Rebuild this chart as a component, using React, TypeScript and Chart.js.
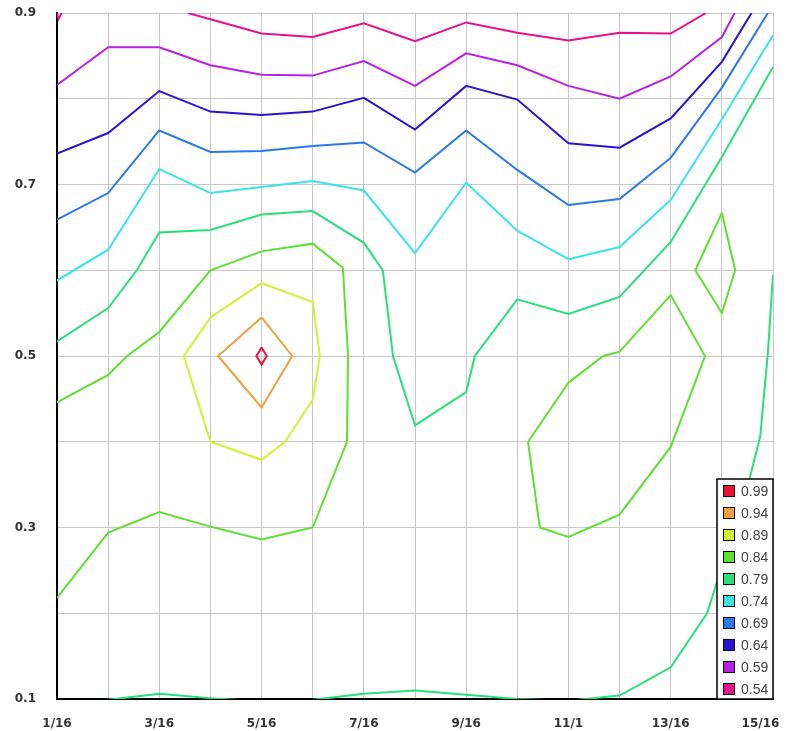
import React, { useEffect, useRef } from 'react';
import { Chart, registerables } from 'chart.js';

Chart.register(...registerables);

// Axis tick labels (x in sixteenths from 1 to 15, y from 0.1 to 0.9)
const xTickLabels = ['1/16', '', '3/16', '', '5/16', '', '7/16', '', '9/16', '', '11/1', '', '13/16', '', '15/16'];
const yTickLabels = ['0.1', '', '0.3', '', '0.5', '', '0.7', '', '0.9'];

// Contour levels (legend order) and their colours
const levels = ['0.99', '0.94', '0.89', '0.84', '0.79', '0.74', '0.69', '0.64', '0.59', '0.54'];
const levelColors = ['#ee1133', '#f0a040', '#d4f030', '#5ee030', '#28e078', '#38e4e4', '#2878e8', '#2a14d0', '#b820e8', '#e8108c'];

// Contour polylines: [x (in sixteenths), y]
const c054a: number[][] = [[1, 0.9], [1.03, 0.893], [1.09, 0.9]];
const c054b: number[][] = [[3.56, 0.9], [5, 0.876], [6, 0.872], [7, 0.888], [8, 0.867], [9, 0.889], [10, 0.877], [11, 0.868], [12, 0.877], [13, 0.876], [13.69, 0.9]];
const c059: number[][] = [[1, 0.816], [2, 0.86], [3, 0.86], [4, 0.839], [5, 0.828], [6, 0.827], [7, 0.844], [8, 0.815], [9, 0.853], [10, 0.839], [11, 0.815], [12, 0.8], [13, 0.826], [14, 0.872], [14.25, 0.9]];
const c064: number[][] = [[1, 0.736], [2, 0.76], [3, 0.809], [4, 0.785], [5, 0.781], [6, 0.785], [7, 0.801], [8, 0.764], [9, 0.815], [10, 0.799], [11, 0.748], [12, 0.743], [13, 0.777], [14, 0.843], [14.58, 0.9]];
const c069: number[][] = [[1, 0.659], [2, 0.69], [3, 0.763], [4, 0.738], [5, 0.739], [6, 0.745], [7, 0.749], [8, 0.714], [9, 0.763], [10, 0.717], [11, 0.676], [12, 0.683], [13, 0.731], [14, 0.813], [14.9, 0.9]];
const c074: number[][] = [[1, 0.588], [2, 0.624], [3, 0.718], [4, 0.69], [5, 0.697], [6, 0.704], [7, 0.693], [8, 0.62], [9, 0.702], [10, 0.646], [11, 0.613], [12, 0.627], [13, 0.682], [14, 0.776], [15, 0.874]];
const c079a: number[][] = [[1, 0.517], [2, 0.556], [2.56, 0.6], [3, 0.644], [4, 0.647], [5, 0.665], [6, 0.669], [7, 0.632], [7.37, 0.6], [7.57, 0.5], [8, 0.419], [9, 0.458], [9.17, 0.5], [10, 0.566], [11, 0.549], [12, 0.569], [13, 0.633], [14, 0.732], [15, 0.837]];
const c079b: number[][] = [[2, 0.099], [3, 0.106], [4, 0.101], [5, 0.097], [6, 0.099], [7, 0.106], [8, 0.11], [9, 0.105], [10, 0.1], [11, 0.098], [12, 0.104], [13, 0.137], [13.71, 0.2], [14, 0.254], [14.55, 0.359], [14.75, 0.406], [14.9, 0.504], [15, 0.595]];
const c084a: number[][] = [[1, 0.446], [2, 0.478], [2.37, 0.5], [3, 0.528], [4, 0.6], [5, 0.622], [6, 0.631], [6.59, 0.603], [6.69, 0.5], [6.67, 0.4], [6, 0.3], [5, 0.286], [4, 0.301], [3, 0.318], [2, 0.294], [1, 0.218]];
const c084b: number[][] = [[10.21, 0.4], [11, 0.469], [11.68, 0.5], [12, 0.505], [13, 0.571], [13.67, 0.5], [13, 0.394], [12, 0.315], [11, 0.289], [10.44, 0.3], [10.21, 0.4]];
const c084c: number[][] = [[14, 0.667], [14.26, 0.6], [14, 0.55], [13.48, 0.6], [14, 0.667]];
const c089: number[][] = [[5, 0.585], [6, 0.563], [6.14, 0.5], [6, 0.449], [5.46, 0.4], [5, 0.379], [4, 0.4], [3.48, 0.5], [4, 0.545], [5, 0.585]];
const c094: number[][] = [[5, 0.545], [5.6, 0.5], [5, 0.44], [4.15, 0.5], [5, 0.545]];
const c099: number[][] = [[5, 0.51], [5.1, 0.5], [5, 0.49], [4.9, 0.5], [5, 0.51]];

const contourLines = [
  { level: '0.54', points: c054a },
  { level: '0.54', points: c054b },
  { level: '0.59', points: c059 },
  { level: '0.64', points: c064 },
  { level: '0.69', points: c069 },
  { level: '0.74', points: c074 },
  { level: '0.79', points: c079a },
  { level: '0.79', points: c079b },
  { level: '0.84', points: c084a },
  { level: '0.84', points: c084b },
  { level: '0.84', points: c084c },
  { level: '0.89', points: c089 },
  { level: '0.94', points: c094 },
  { level: '0.99', points: c099 },
];

const legendPlugin = {
  id: 'contourLegend',
  afterDraw(chart: any) {
    const { ctx, chartArea } = chart;
    const boxW = 56;
    const boxH = 220;
    const x0 = chartArea.right - boxW;
    const y0 = chartArea.bottom - boxH;
    ctx.save();
    ctx.fillStyle = '#ffffff';
    ctx.fillRect(x0, y0, boxW, boxH);
    ctx.strokeStyle = '#000000';
    ctx.lineWidth = 1.5;
    ctx.strokeRect(x0, y0, boxW, boxH);
    ctx.font = '14px "Liberation Sans", Arial, sans-serif';
    ctx.textBaseline = 'middle';
    ctx.textAlign = 'left';
    levels.forEach((lv, i) => {
      const cy = y0 + 12 + i * 22;
      ctx.fillStyle = levelColors[i];
      ctx.fillRect(x0 + 6.5, cy - 5.5, 11, 11);
      ctx.lineWidth = 1;
      ctx.strokeStyle = '#000';
      ctx.strokeRect(x0 + 6.5, cy - 5.5, 11, 11);
      ctx.fillStyle = '#444';
      ctx.fillText(lv, x0 + 24, cy + 1);
    });
    ctx.restore();
  },
};

export default function App() {
  const ref = useRef<HTMLCanvasElement>(null);
  useEffect(() => {
    const datasets = contourLines.map((c) => ({
      label: c.level,
      data: c.points.map(([x, y]) => ({ x, y })),
      borderColor: levelColors[levels.indexOf(c.level)],
      backgroundColor: levelColors[levels.indexOf(c.level)],
      borderWidth: 2,
      pointRadius: 0,
      pointHoverRadius: 0,
      showLine: true,
      fill: false,
      tension: 0,
    }));
    const tickFont = { family: '"DejaVu Sans", Verdana, sans-serif', size: 12, weight: 'bold' as const };
    const chart = new Chart(ref.current as HTMLCanvasElement, {
      type: 'scatter',
      data: { datasets },
      options: {
        animation: false,
        responsive: false,
        devicePixelRatio: 1,
        layout: { padding: { left: 0, right: 14, top: 13, bottom: 0 } },
        plugins: { legend: { display: false }, tooltip: { enabled: false } },
        scales: {
          x: {
            type: 'linear',
            min: 1,
            max: 15,
            ticks: {
              stepSize: 1,
              autoSkip: false,
              maxRotation: 0,
              padding: 18,
              color: '#333',
              font: tickFont,
              callback: (v: any) => {
                const i = Math.round(Number(v)) - 1;
                const s = xTickLabels[i] ?? '';
                return i === xTickLabels.length - 1 ? s + '      ' : s;
              },
            },
            grid: { color: '#c8c8c8', lineWidth: 1, drawTicks: false },
            border: { color: '#000', width: 2 },
            afterFit: (s: any) => {
              s.height = 32;
              s.paddingLeft = 0;
              s.paddingRight = 0;
            },
          },
          y: {
            type: 'linear',
            min: 0.1,
            max: 0.9,
            ticks: {
              stepSize: 0.1,
              autoSkip: false,
              padding: 21,
              color: '#333',
              font: tickFont,
              callback: (v: any) => yTickLabels[Math.round(Number(v) * 10) - 1] ?? '',
            },
            grid: { color: '#c8c8c8', lineWidth: 1, drawTicks: false },
            border: { color: '#000', width: 2 },
            afterFit: (s: any) => {
              s.width = 57;
              s.paddingTop = 0;
              s.paddingBottom = 0;
            },
          },
        },
      },
      plugins: [legendPlugin],
    });
    return () => chart.destroy();
  }, []);
  return (
    <div style={{ position: 'fixed', left: 0, top: 0, width: 787, height: 731, background: '#fff' }}>
      <canvas ref={ref} width={787} height={731} style={{ display: 'block', width: 787, height: 731 }} />
    </div>
  );
}
